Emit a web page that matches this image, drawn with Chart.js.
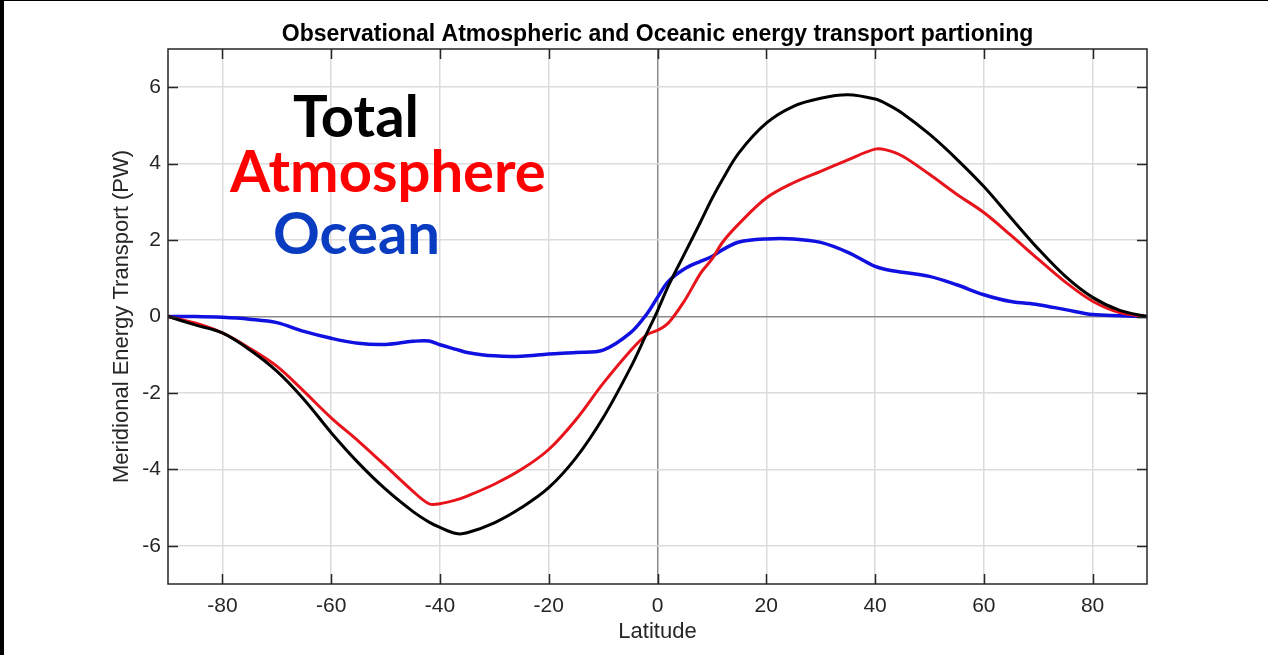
<!DOCTYPE html>
<html>
<head>
<meta charset="utf-8">
<script src="https://cdn.jsdelivr.net/npm/chart.js@4.4.1/dist/chart.umd.min.js"></script>
<style>
  html, body { margin: 0; padding: 0; background: #fff; }
  #wrap { position: relative; width: 1268px; height: 655px; }
  #edgeLeft { position: absolute; left: 0; top: 0; width: 4px; height: 655px; background: #000; }
  #edgeTop { position: absolute; left: 0; top: 0; width: 1268px; height: 1px; background: #000; }
</style>
</head>
<body>
<div id="wrap">
  <canvas id="myChart" width="1268" height="655"></canvas>
  <div id="edgeLeft"></div>
  <div id="edgeTop"></div>
</div>
<script>
// values (PW)
const latitudes = [-90, -85, -80, -75, -70, -65, -60, -55, -50, -45,
  -42, -40, -37, -35,
  -30, -25, -20, -15, -10, -5,
  -2, 0, 2, 5, 8, 10, 12,
  15, 20, 25, 30, 35, 40,
  42, 45, 50, 55, 60, 65, 70, 75, 80, 85, 90];

const total = [0, -0.22, -0.43, -0.87, -1.43, -2.17, -3.04, -3.83, -4.52, -5.1,
  -5.38, -5.52, -5.68, -5.66,
  -5.4, -5.0, -4.48, -3.7, -2.65, -1.35,
  -0.45, 0.15, 0.8, 1.65, 2.5, 3.08, 3.6,
  4.29, 5.06, 5.5, 5.71, 5.8, 5.69,
  5.57, 5.32, 4.77, 4.12, 3.4, 2.58, 1.77, 1.05, 0.5, 0.16, 0];

const atmosphere = [0, -0.17, -0.43, -0.83, -1.3, -1.96, -2.65, -3.26, -3.91, -4.57,
  -4.9, -4.9, -4.8, -4.7,
  -4.39, -4.0, -3.48, -2.7, -1.75, -0.9,
  -0.48, -0.36, -0.17, 0.42, 1.15, 1.5, 1.95,
  2.43, 3.1, 3.5, 3.8, 4.1, 4.38,
  4.36, 4.2, 3.72, 3.2, 2.72, 2.12, 1.5, 0.9, 0.4, 0.1, 0];

const ocean = [0, 0, -0.02, -0.07, -0.16, -0.39, -0.57, -0.70, -0.73, -0.65,
  -0.64, -0.74, -0.86, -0.94,
  -1.03, -1.04, -0.98, -0.94, -0.88, -0.43,
  0.06, 0.5, 0.92, 1.25, 1.45, 1.57, 1.75,
  1.95, 2.03, 2.03, 1.94, 1.68, 1.31,
  1.23, 1.16, 1.05, 0.83, 0.57, 0.39, 0.31, 0.18, 0.05, 0.02, 0];

const xTicks = [-80, -60, -40, -20, 0, 20, 40, 60, 80];
const yTicks = [-6, -4, -2, 0, 2, 4, 6];
const seriesNames = ['Total', 'Atmosphere', 'Ocean'];

const chartTitle = 'Observational Atmospheric and Oceanic energy transport partioning';
const font = "'Liberation Sans', Arial, Helvetica, sans-serif";
const axisColor = '#262626';

function pts(values) {
    return latitudes.map((lat, i) => ({ x: lat, y: values[i] }));
}

// box, inward ticks, title and the big coloured labels
const overlay = {
    id: 'overlay',
    afterDraw(chart) {
        const { ctx, chartArea: a, scales: { x, y } } = chart;
        ctx.save();
        ctx.strokeStyle = axisColor;
        ctx.lineWidth = 1.5;
        ctx.strokeRect(a.left, a.top, a.right - a.left, a.bottom - a.top);
        ctx.beginPath();
        xTicks.forEach(v => {
            const px = Math.round(x.getPixelForValue(v)) + 0.5;
            ctx.moveTo(px, a.bottom); ctx.lineTo(px, a.bottom - 10);
            ctx.moveTo(px, a.top); ctx.lineTo(px, a.top + 10);
        });
        yTicks.forEach(v => {
            const py = Math.round(y.getPixelForValue(v)) + 0.5;
            ctx.moveTo(a.left, py); ctx.lineTo(a.left + 10, py);
            ctx.moveTo(a.right, py); ctx.lineTo(a.right - 10, py);
        });
        ctx.stroke();

        // title
        ctx.fillStyle = '#000';
        ctx.font = 'bold 23px ' + font;
        ctx.textAlign = 'center';
        ctx.textBaseline = 'alphabetic';
        ctx.fillText(chartTitle, (a.left + a.right) / 2, 41);

        // labels
        ctx.textAlign = 'left';
        ctx.font = "bold 58px Lato, 'Open Sans', sans-serif";
        ctx.fillStyle = '#000000';
        ctx.fillText(seriesNames[0], 293, 137);
        ctx.fillStyle = '#ff0000';
        ctx.fillText(seriesNames[1], 230, 192);
        ctx.fillStyle = '#0a3cc2';
        ctx.fillText(seriesNames[2], 273, 254);
        ctx.restore();
    }
};

const gridColor = c => c.tick && c.tick.value === 0 ? '#8a8a8a' : '#dcdcdc';

new Chart(document.getElementById('myChart'), {
    type: 'line',
    data: {
        datasets: [
            { label: seriesNames[0], data: pts(total), borderColor: '#000000', borderWidth: 3 },
            { label: seriesNames[1], data: pts(atmosphere), borderColor: '#e8141b', borderWidth: 3 },
            { label: seriesNames[2], data: pts(ocean), borderColor: '#1010e0', borderWidth: 3.5 }
        ]
    },
    options: {
        responsive: false,
        animation: false,
        events: [],
        layout: { padding: { left: 105, right: 121, top: 49, bottom: 6 } },
        elements: {
            point: { radius: 0 },
            line: { tension: 0.35, fill: false, borderJoinStyle: 'round' }
        },
        plugins: {
            legend: { display: false },
            title: { display: false },
            tooltip: { enabled: false }
        },
        scales: {
            x: {
                type: 'linear',
                min: -90,
                max: 90,
                afterBuildTicks: s => { s.ticks = xTicks.map(v => ({ value: v })); },
                afterFit: s => { s.height = 65; },
                grid: { color: gridColor, lineWidth: 1.5, drawTicks: false },
                border: { display: false },
                ticks: {
                    color: axisColor,
                    padding: 10,
                    maxRotation: 0,
                    font: { family: font, size: 21 }
                },
                title: {
                    display: true,
                    text: 'Latitude',
                    color: axisColor,
                    padding: { top: 0, bottom: 4 },
                    font: { family: font, size: 22 }
                }
            },
            y: {
                min: -7,
                max: 7,
                afterBuildTicks: s => { s.ticks = yTicks.map(v => ({ value: v })); },
                afterFit: s => { s.width = 63; },
                grid: { color: gridColor, lineWidth: 1.5, drawTicks: false },
                border: { display: false },
                ticks: {
                    color: axisColor,
                    padding: 7,
                    font: { family: font, size: 21 }
                },
                title: {
                    display: true,
                    text: 'Meridional Energy Transport (PW)',
                    color: axisColor,
                    padding: { top: 4, bottom: 0 },
                    font: { family: font, size: 22 }
                }
            }
        }
    },
    plugins: [overlay]
});
</script>
</body>
</html>
